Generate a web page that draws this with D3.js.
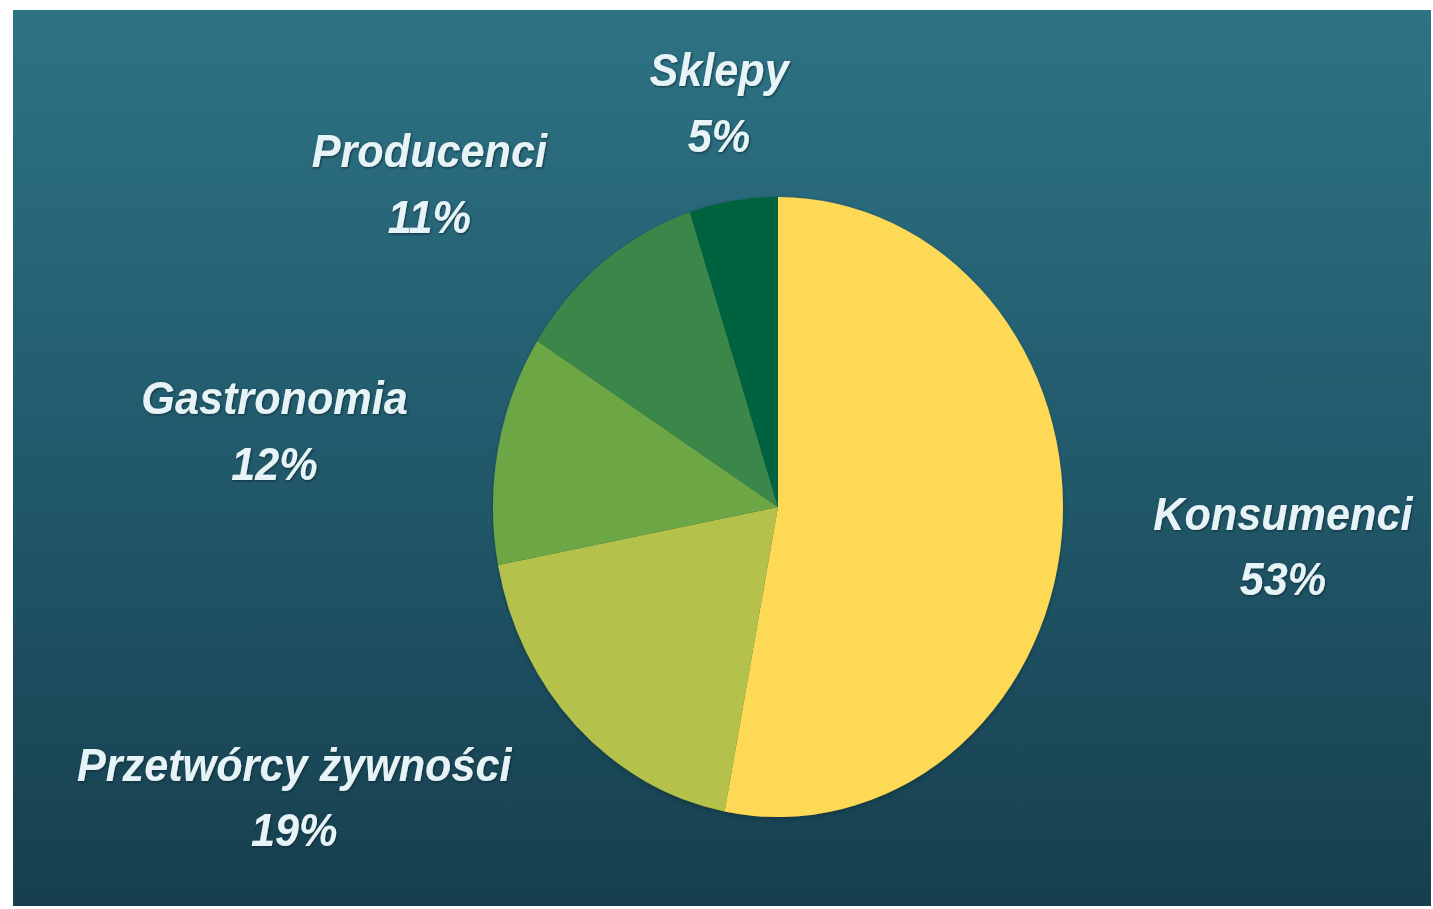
<!DOCTYPE html>
<html>
<head>
<meta charset="utf-8">
<script src="https://cdn.jsdelivr.net/npm/d3@7"></script>
<style>
  html, body { margin: 0; padding: 0; background: #ffffff; }
  svg { display: block; }
</style>
</head>
<body>
<div id="chart"></div>
<script>
// data
const categories = ["Konsumenci", "Przetwórcy żywności", "Gastronomia", "Producenci", "Sklepy"]
const shares = [53, 19, 12, 11, 5]
const sliceColors = ["#fdd954", "#b4c24b", "#6ca645", "#3a864a", "#03643f"]

const width = 1433, height = 909
const center = { x: 778, y: 507 }
const radius = 310
const squeeze = 285 / 310   // picture is a little narrower than tall

const svg = d3.select("#chart").append("svg")
    .attr("width", width)
    .attr("height", height)

const defs = svg.append("defs")

const bg = defs.append("linearGradient")
    .attr("id", "bg")
    .attr("x1", 0).attr("y1", 0).attr("x2", 0).attr("y2", 1)
bg.append("stop").attr("offset", "0%").attr("stop-color", "#2d7384")
bg.append("stop").attr("offset", "55%").attr("stop-color", "#205769")
bg.append("stop").attr("offset", "100%").attr("stop-color", "#173f4e")

defs.append("filter").attr("id", "pieShadow")
    .attr("x", "-10%").attr("y", "-10%").attr("width", "120%").attr("height", "120%")
    .append("feDropShadow")
    .attr("dx", 0).attr("dy", 2).attr("stdDeviation", 2)
    .attr("flood-color", "#0b2a33").attr("flood-opacity", 0.6)

defs.append("filter").attr("id", "textShadow")
    .attr("x", "-10%").attr("y", "-20%").attr("width", "120%").attr("height", "140%")
    .append("feDropShadow")
    .attr("dx", 1).attr("dy", 1).attr("stdDeviation", 1.2)
    .attr("flood-color", "#0a2630").attr("flood-opacity", 0.8)

// background panel
svg.append("rect")
    .attr("x", 13).attr("y", 10)
    .attr("width", 1418).attr("height", 896)
    .attr("fill", "url(#bg)")

const g = svg.append("g")
    .attr("transform", `translate(${center.x},${center.y}) scale(${squeeze},1)`)

const pie = d3.pie().sort(null).value(d => d)
const arcs = pie(shares)

const arc = d3.arc().innerRadius(0).outerRadius(radius)
const labelArc = d3.arc().innerRadius(410).outerRadius(410)

g.append("g")
    .attr("filter", "url(#pieShadow)")
    .selectAll("path")
    .data(arcs)
    .join("path")
    .attr("d", arc)
    .attr("fill", (d, i) => sliceColors[i])

// labels: edge of text block sits on the label ring, side picks the anchor
const labels = g.append("g")
    .attr("filter", "url(#textShadow)")
    .selectAll("text")
    .data(arcs)
    .join("text")
    .attr("font-family", "'Liberation Sans', Arial, sans-serif")
    .attr("font-weight", "bold")
    .attr("font-style", "italic")
    .attr("font-size", 47)
    .attr("fill", "#e6f3f7")
    .attr("text-anchor", d => {
        const s = Math.sin((d.startAngle + d.endAngle) / 2)
        return s > 0.3 ? "start" : s < -0.3 ? "end" : "middle"
    })
    .attr("transform", d => {
        const [x, y] = labelArc.centroid(d)
        return `translate(${x},${y})`
    })

labels.append("tspan")
    .attr("x", 0)
    .attr("y", -16)
    .text((d, i) => categories[i])

labels.append("tspan")
    .attr("x", 0)
    .attr("y", 49.5)
    .text(d => d.data + "%")

// centre the percentage under its name
labels.each(function () {
    const t = d3.select(this)
    const w = t.select("tspan").node().getComputedTextLength()
    const anchor = t.attr("text-anchor")
    const mid = anchor === "start" ? w / 2 : anchor === "end" ? -w / 2 : 0
    t.selectAll("tspan").filter((d, i) => i === 1)
        .attr("x", mid)
        .attr("text-anchor", "middle")
})
</script>
</body>
</html>
